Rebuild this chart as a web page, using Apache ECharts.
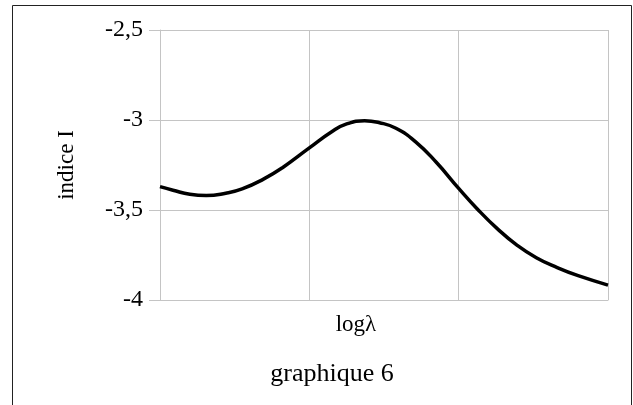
<!DOCTYPE html>
<html>
<head>
<meta charset="utf-8">
<script src="https://cdn.jsdelivr.net/npm/echarts@6/dist/echarts.min.js"></script>
<style>html,body{margin:0;padding:0;background:#fff}#c{width:633px;height:405px}</style>
</head>
<body>
<div id="c"></div>
<script>
var xValues = [0, 0.087, 0.2, 0.31, 0.44, 0.55, 0.69, 0.82, 1.0, 1.15, 1.25, 1.37, 1.47, 1.58, 1.71, 1.85, 2.0, 2.12, 2.26, 2.39, 2.52, 2.66, 2.80, 3.0];
var yValues = [-3.37, -3.39, -3.413, -3.42, -3.407, -3.383, -3.33, -3.265, -3.155, -3.065, -3.022, -3.004, -3.015, -3.046, -3.12, -3.235, -3.38, -3.49, -3.605, -3.695, -3.765, -3.82, -3.865, -3.917];
var yTicks = [-4, -3.5, -3, -2.5];
var xName = 'logλ';
var yName = 'indice I';
var titleText = 'graphique 6';

var points = xValues.map(function (x, i) { return [x, yValues[i]]; });
var serif = 'Liberation Serif';
var gridColor = '#c4c4c4';

var chart = echarts.init(document.getElementById('c'));
chart.setOption({
  animation: false,
  textStyle: { fontFamily: serif },
  grid: { left: 160, right: 25, top: 30, bottom: 105 },
  xAxis: {
    type: 'value', min: 0, max: 3, interval: 1,
    name: xName, nameLocation: 'middle', nameGap: 13,
    nameTextStyle: { fontFamily: serif, fontSize: 23, color: '#000', padding: [0, 56, 0, 0] },
    axisLine: { show: true, lineStyle: { color: gridColor, width: 1 } },
    axisTick: { show: false },
    axisLabel: { show: false },
    splitLine: { show: true, lineStyle: { color: gridColor, width: 1 } }
  },
  yAxis: {
    type: 'value', min: -4, max: -2.5, interval: 0.5,
    name: yName, nameLocation: 'middle', nameGap: 82,
    nameTextStyle: { fontFamily: serif, fontSize: 23, color: '#000' },
    axisLine: { show: true, lineStyle: { color: gridColor, width: 1 } },
    axisTick: { show: true, length: 11, lineStyle: { color: gridColor } },
    axisLabel: {
      margin: 17, color: '#000',
      textStyle: { fontFamily: serif, fontSize: 24 },
      fontFamily: serif, fontSize: 24,
      formatter: function (v) { return String(v).replace('.', ','); }
    },
    splitLine: { show: true, lineStyle: { color: gridColor, width: 1 } }
  },
  series: [{
    type: 'line', data: points, smooth: 0.5, symbol: 'none',
    lineStyle: { color: '#000', width: 3.5 }
  }],
  graphic: [
    { type: 'rect', shape: { x: 12.5, y: 5.5, width: 619, height: 430 }, style: { fill: 'none', stroke: '#222', lineWidth: 1 }, silent: true },
    { type: 'text', x: 332, y: 374, style: { text: titleText, font: '26px "Liberation Serif"', fill: '#000', textAlign: 'center', textVerticalAlign: 'middle' } }
  ]
});
</script>
</body>
</html>
